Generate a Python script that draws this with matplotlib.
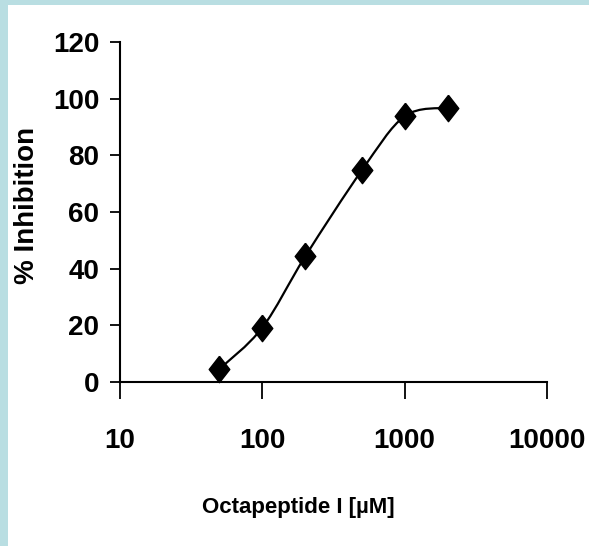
import matplotlib
matplotlib.use("Agg")
import matplotlib.pyplot as plt
from matplotlib.path import Path
from matplotlib.patches import PathPatch, Rectangle
from matplotlib.transforms import IdentityTransform
import numpy as np

# data
conc = [50, 100, 200, 500, 1000, 2000]
inhibition = [4.6, 19.2, 44.3, 74.7, 93.8, 96.8]
xticks = [10, 100, 1000, 10000]
yticks = [0, 20, 40, 60, 80, 100, 120]

fam = ['Liberation Sans', 'DejaVu Sans']

fig = plt.figure(figsize=(5.89, 5.46), dpi=100)
fig.patch.set_facecolor('#B9DEE2')
# white panel, blue strip only at the top and left
fig.patches.append(Rectangle((8 / 589, 0), 1, 1 - 5 / 546, transform=fig.transFigure,
                             facecolor='white', edgecolor='none', zorder=-10))

ax = fig.add_axes([120 / 589, 1 - 382 / 546, 427 / 589, 340 / 546])
ax.set_zorder(1)
ax.set_facecolor('none')
ax.set_xscale('log')
ax.set_xlim(10, 10000)
ax.set_ylim(0, 120)
ax.set_xticks(xticks)
ax.set_xticklabels([str(t) for t in xticks])
ax.set_yticks(yticks)
ax.set_yticklabels([str(t) for t in yticks])
ax.minorticks_off()

for s in ['top', 'right']:
    ax.spines[s].set_visible(False)
for s in ['left', 'bottom']:
    ax.spines[s].set_linewidth(1.5)
    ax.spines[s].set_color('black')

ax.tick_params(axis='y', direction='out', length=7, width=1.3, pad=8)
ax.tick_params(axis='x', direction='out', length=12, width=1.3, pad=21)
for lab in ax.get_xticklabels() + ax.get_yticklabels():
    lab.set_family(fam)
    lab.set_fontweight('bold')
    lab.set_fontsize(20)

ax.set_xlabel('Octapeptide I [µM]', family=fam, fontweight='bold', fontsize=16, va='center')
ax.set_ylabel('% Inhibition', family=fam, fontweight='bold', fontsize=20, va='center')
ax.xaxis.set_label_coords(0.417, -0.368)
ax.yaxis.set_label_coords(-0.218, 0.518)

# smoothed connecting line (Excel-style bezier through the points, in screen space)
pts = ax.transData.transform(np.column_stack([conc, inhibition]))
verts = [pts[0]]
codes = [Path.MOVETO]
n = len(pts)
for i in range(n - 1):
    p0 = pts[i - 1] if i > 0 else pts[i]
    p1 = pts[i]
    p2 = pts[i + 1]
    p3 = pts[i + 2] if i + 2 < n else pts[i + 1]
    c1 = p1 + (p2 - p0) / 6
    c2 = p2 - (p3 - p1) / 6
    verts += [c1, c2, p2]
    codes += [Path.CURVE4] * 3
curve = PathPatch(Path(verts, codes), facecolor='none', edgecolor='black', lw=1.6,
                  transform=IdentityTransform(), clip_on=False)
ax.add_patch(curve)

diamond = Path([(0, 1), (0.78, 0), (0, -1), (-0.78, 0), (0, 1)])
ax.plot(conc, inhibition, linestyle='none', marker=diamond, markersize=19,
        color='black', clip_on=False, zorder=5)

fig.savefig('out.png', dpi=100, facecolor=fig.get_facecolor())
